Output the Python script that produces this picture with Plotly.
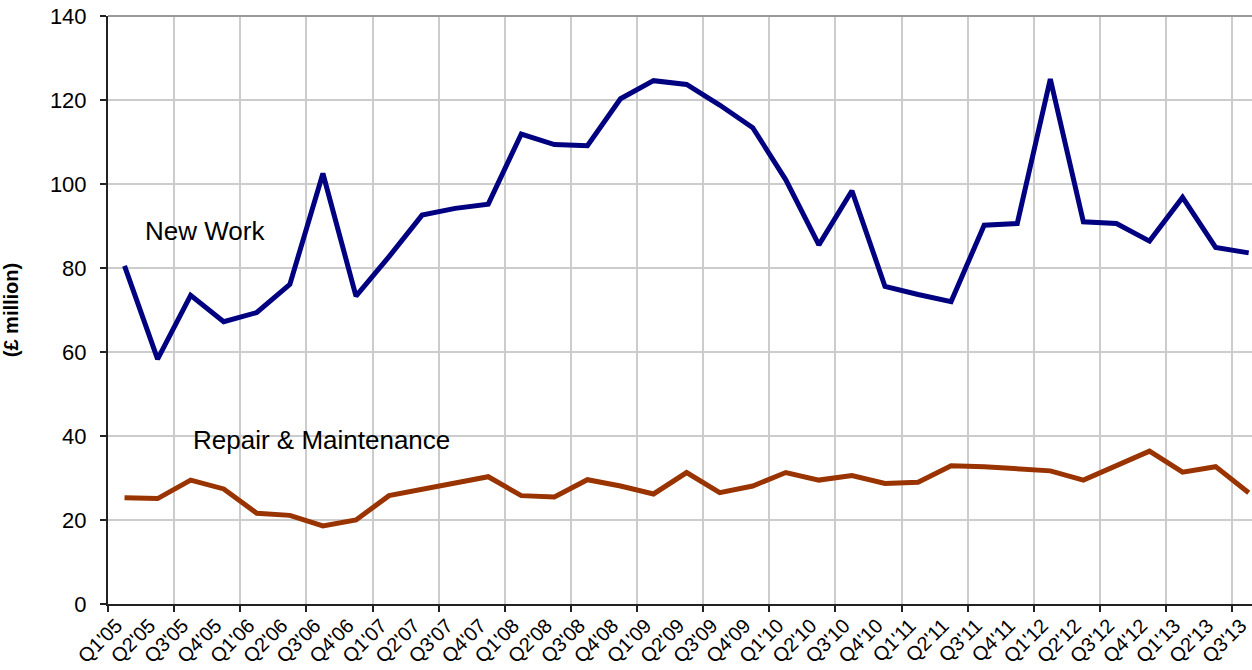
import plotly.graph_objects as go

quarters = ["Q1'05", "Q2'05", "Q3'05", "Q4'05", "Q1'06", "Q2'06", "Q3'06", "Q4'06",
            "Q1'07", "Q2'07", "Q3'07", "Q4'07", "Q1'08", "Q2'08", "Q3'08", "Q4'08",
            "Q1'09", "Q2'09", "Q3'09", "Q4'09", "Q1'10", "Q2'10", "Q3'10", "Q4'10",
            "Q1'11", "Q2'11", "Q3'11", "Q4'11", "Q1'12", "Q2'12", "Q3'12", "Q4'12",
            "Q1'13", "Q2'13", "Q3'13"]

new_work = [80.5, 58.3, 73.5, 67.2, 69.4, 76.1, 102.5, 73.3,
            82.7, 92.6, 94.2, 95.2, 111.9, 109.4, 109.1, 120.3,
            124.6, 123.7, 118.8, 113.4, 101.0, 85.5, 98.4, 75.6,
            73.7, 72.0, 90.2, 90.6, 125.0, 91.0, 90.6, 86.4,
            96.8, 84.9, 83.6]

repair_maint = [25.3, 25.1, 29.5, 27.4, 21.6, 21.1, 18.6, 20.0,
                25.8, 27.3, 28.6, 30.3, 25.8, 25.5, 29.6, 28.1,
                26.2, 31.3, 26.5, 28.1, 31.3, 29.5, 30.6, 28.7,
                29.0, 32.9, 32.7, 32.1, 31.7, 29.5, 32.9, 36.4,
                31.4, 32.7, 26.5]

idx = list(range(len(quarters)))
boundaries = [i - 0.5 for i in range(0, len(quarters), 2)]
xrange_ = [-0.5, len(quarters) - 0.9]

FONT = "Liberation Sans, Arial, sans-serif"

fig = go.Figure()
fig.add_trace(go.Scatter(x=idx, y=new_work, mode="lines", name="New Work",
                         line=dict(color="#000080", width=5), xaxis="x", yaxis="y"))
fig.add_trace(go.Scatter(x=idx, y=repair_maint, mode="lines", name="Repair & Maintenance",
                         line=dict(color="#993300", width=5), xaxis="x2", yaxis="y"))

fig.update_layout(
    width=1252, height=670,
    margin=dict(l=108, r=0, t=16, b=66, autoexpand=False),
    paper_bgcolor="white", plot_bgcolor="white",
    showlegend=False,
    font=dict(family=FONT, color="black"),
    xaxis=dict(
        range=xrange_, tickmode="array", tickvals=boundaries, automargin=False,
        showticklabels=False, ticks="outside", ticklen=6, tickwidth=2, tickcolor="#222",
        showgrid=True, gridcolor="#cccccc", gridwidth=1.5,
        showline=True, linecolor="#222", linewidth=2, zeroline=False,
    ),
    xaxis2=dict(
        overlaying="x", side="bottom", anchor="y", automargin=False,
        range=xrange_, tickmode="array", tickvals=idx, ticktext=quarters,
        tickangle=-45, tickfont=dict(size=20, family=FONT, color="black"),
        ticklabeloverflow="allow", ticklabelshift=-8, ticklabelstandoff=5,
        ticks="", showgrid=False, showline=False, zeroline=False,
    ),
    yaxis=dict(
        range=[0, 140], tickmode="linear", tick0=0, dtick=20, automargin=False,
        tickfont=dict(size=22, family=FONT, color="black"),
        ticks="outside", ticklen=6, tickwidth=2, tickcolor="#222",
        showgrid=True, gridcolor="#cccccc", gridwidth=1.5,
        showline=True, linecolor="#222", linewidth=2, zeroline=False,
        ticklabelstandoff=9,
        title=dict(text="<b>(£ million)</b>", font=dict(size=20, family=FONT, color="black"),
                   standoff=30),
    ),
    shapes=[dict(type="line", xref="x domain", yref="y domain", x0=0, x1=1, y0=1, y1=1,
                 line=dict(color="#999999", width=2))],
    annotations=[
        dict(x=2.44, y=88.8, xref="x", yref="y", text="New Work", showarrow=False,
             font=dict(size=26, family=FONT, color="black")),
        dict(x=5.96, y=39.0, xref="x", yref="y", text="Repair & Maintenance", showarrow=False,
             font=dict(size=26, family=FONT, color="black")),
    ],
)

# remove the default body margin and clip anything that spills past the figure
post = (
    "document.body.style.margin='0';"
    "document.body.style.overflow='hidden';"
    "document.documentElement.style.overflow='hidden';"
)
fig.write_html("out.html", config={"displayModeBar": False}, post_script=post)
